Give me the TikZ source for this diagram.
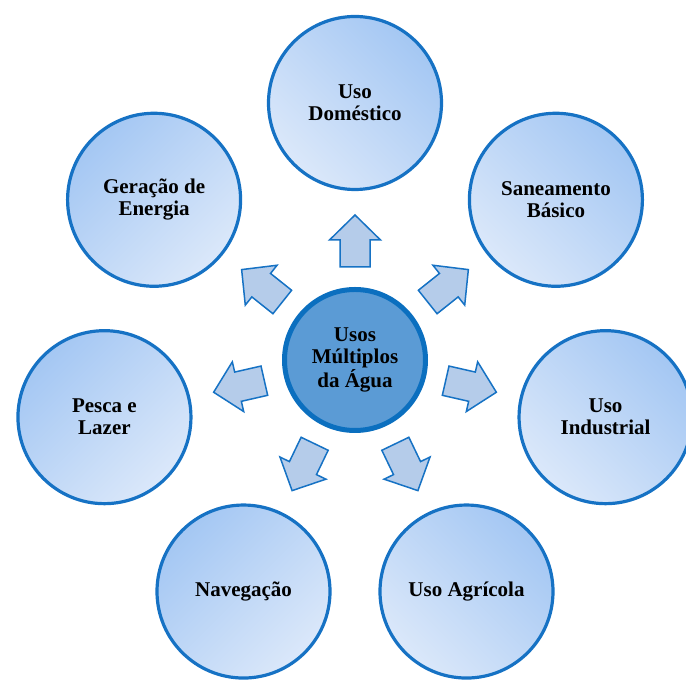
\documentclass[tikz,border=0pt]{standalone}
\usepackage{fontspec}
\setmainfont{Liberation Serif}
\definecolor{ringblue}{HTML}{1672C4}
\definecolor{hubfill}{HTML}{5B9BD5}
\definecolor{hubline}{HTML}{0B6FBF}
\definecolor{shadedark}{HTML}{A4C7F3}
\definecolor{shadelight}{HTML}{DBE8FA}
\definecolor{arrowfill}{HTML}{B5CCEA}
\begin{document}
\begin{tikzpicture}[x=1pt,y=1pt,
  txt/.style={font=\fontsize{21}{22}\selectfont\bfseries, align=center, text=black},
  usecircle/.style={circle, draw=ringblue, line width=3.2pt, minimum size=173pt,
    inner sep=0pt, top color=shadedark, bottom color=shadelight, txt},
  rightshade/.style={usecircle, shading angle=-45},
  leftshade/.style={usecircle, shading angle=45},
  hub/.style={circle, draw=hubline, line width=5pt, fill=hubfill,
    minimum size=141pt, inner sep=0pt, txt},
  blockarrow/.style={draw=ringblue, line width=1.5pt, fill=arrowfill, line join=miter}]
\useasboundingbox (0,0) rectangle (686,682);
\coordinate (c) at (355,322);

\begin{scope}[shift={(c)}]
  % block arrows pointing out from the hub
  \foreach \a in {90,38.571,-12.857,-64.286,-115.714,-167.143,141.429}
    \draw[blockarrow, rotate=\a]
      (93,-15) -- (120,-15) -- (120,-25.5) -- (145,0) -- (120,25.5)
      -- (120,15) -- (93,15) -- cycle;

  % ring of uses
  \node[rightshade] (domestico)  at (90:257)      {Uso\\Doméstico};
  \node[rightshade] (saneamento) at (38.571:257)  {Saneamento\\Básico};
  \node[rightshade] (industrial) at (-12.857:257) {Uso\\Industrial};
  \node[rightshade] (agricola)   at (-64.286:257) {Uso Agrícola};
  \node[leftshade]  (navegacao)  at (-115.714:257) {Navegação};
  \node[leftshade]  (pesca)      at (-167.143:257) {Pesca e\\Lazer};
  \node[leftshade]  (geracao)    at (141.429:257) {Geração de\\Energia};
\end{scope}

\node[hub] (hub) at (c) {\bfseries Usos\\\bfseries Múltiplos\\\bfseries da Água};
\end{tikzpicture}
\end{document}
